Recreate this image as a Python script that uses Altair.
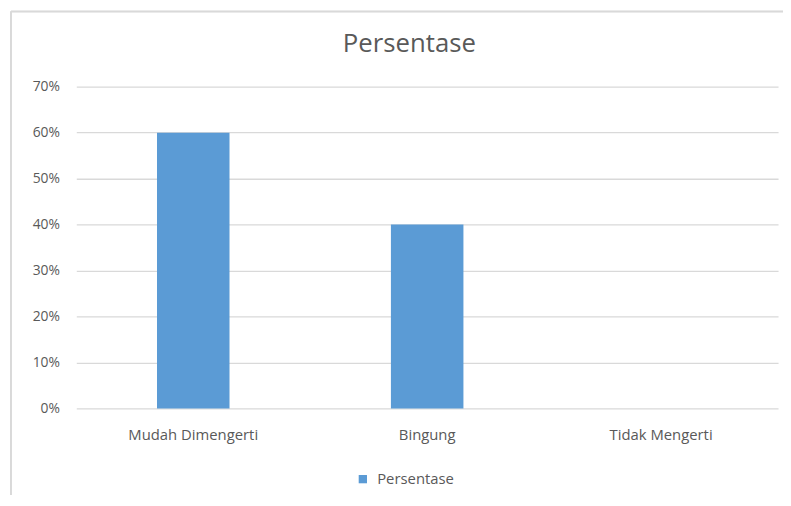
import altair as alt
import pandas as pd

categories = ["Mudah Dimengerti", "Bingung", "Tidak Mengerti"]
values = [0.60, 0.40, 0.0]
series_name = "Persentase"
y_ticks = [0, 0.1, 0.2, 0.3, 0.4, 0.5, 0.6, 0.7]

df = pd.DataFrame({"Kategori": categories, "Nilai": values, "Seri": [series_name] * len(categories)})

FONT = "Open Sans"
TEXT = "#595959"
GRID = "#D9D9D9"

bars = alt.Chart(df).mark_bar(color="#5B9BD5").encode(
    x=alt.X("Kategori:N", sort=categories, title=None,
            scale=alt.Scale(paddingInner=0.69, paddingOuter=0.345),
            axis=alt.Axis(labelAngle=0, ticks=False, domain=False, labelPadding=19,
                          labelFontSize=15, labelColor=TEXT, labelFont=FONT)),
    y=alt.Y("Nilai:Q", title=None, scale=alt.Scale(domain=[0, 0.7]),
            axis=alt.Axis(values=y_ticks, format=".0%", ticks=False, domain=False,
                          gridColor=GRID, gridWidth=1.3, labelPadding=17,
                          labelFontSize=14, labelColor=TEXT, labelFont=FONT)),
    color=alt.Color("Seri:N", scale=alt.Scale(range=["#5B9BD5"]),
                    legend=alt.Legend(title=None, orient="none", legendX=282, legendY=389,
                                      symbolType="square", symbolSize=70, symbolStrokeWidth=0,
                                      labelOffset=7,
                                      labelFontSize=15, labelColor=TEXT, labelFont=FONT)),
)

left_border = alt.Chart(df).mark_rule(color=GRID, strokeWidth=1.5).encode(
    x=alt.value(-66), y=alt.value(-76), y2=alt.value(420)
)
top_border = alt.Chart(df).mark_rule(color=GRID, strokeWidth=1.5).encode(
    x=alt.value(-66), x2=alt.value(731), y=alt.value(-76)
)

chart = alt.layer(left_border, top_border, bars).properties(
    width=709, height=325,
    title=alt.TitleParams("Persentase", fontSize=26, color=TEXT, font=FONT,
                          fontWeight="normal", offset=-47, dx=-18, anchor="middle"),
    autosize=alt.AutoSizeParams(type="none"),
    padding={"left": 69, "top": 77, "right": 5, "bottom": 85},
).configure_view(stroke=None)

chart.save("out.html", embed_options={"renderer": "svg", "actions": False})
